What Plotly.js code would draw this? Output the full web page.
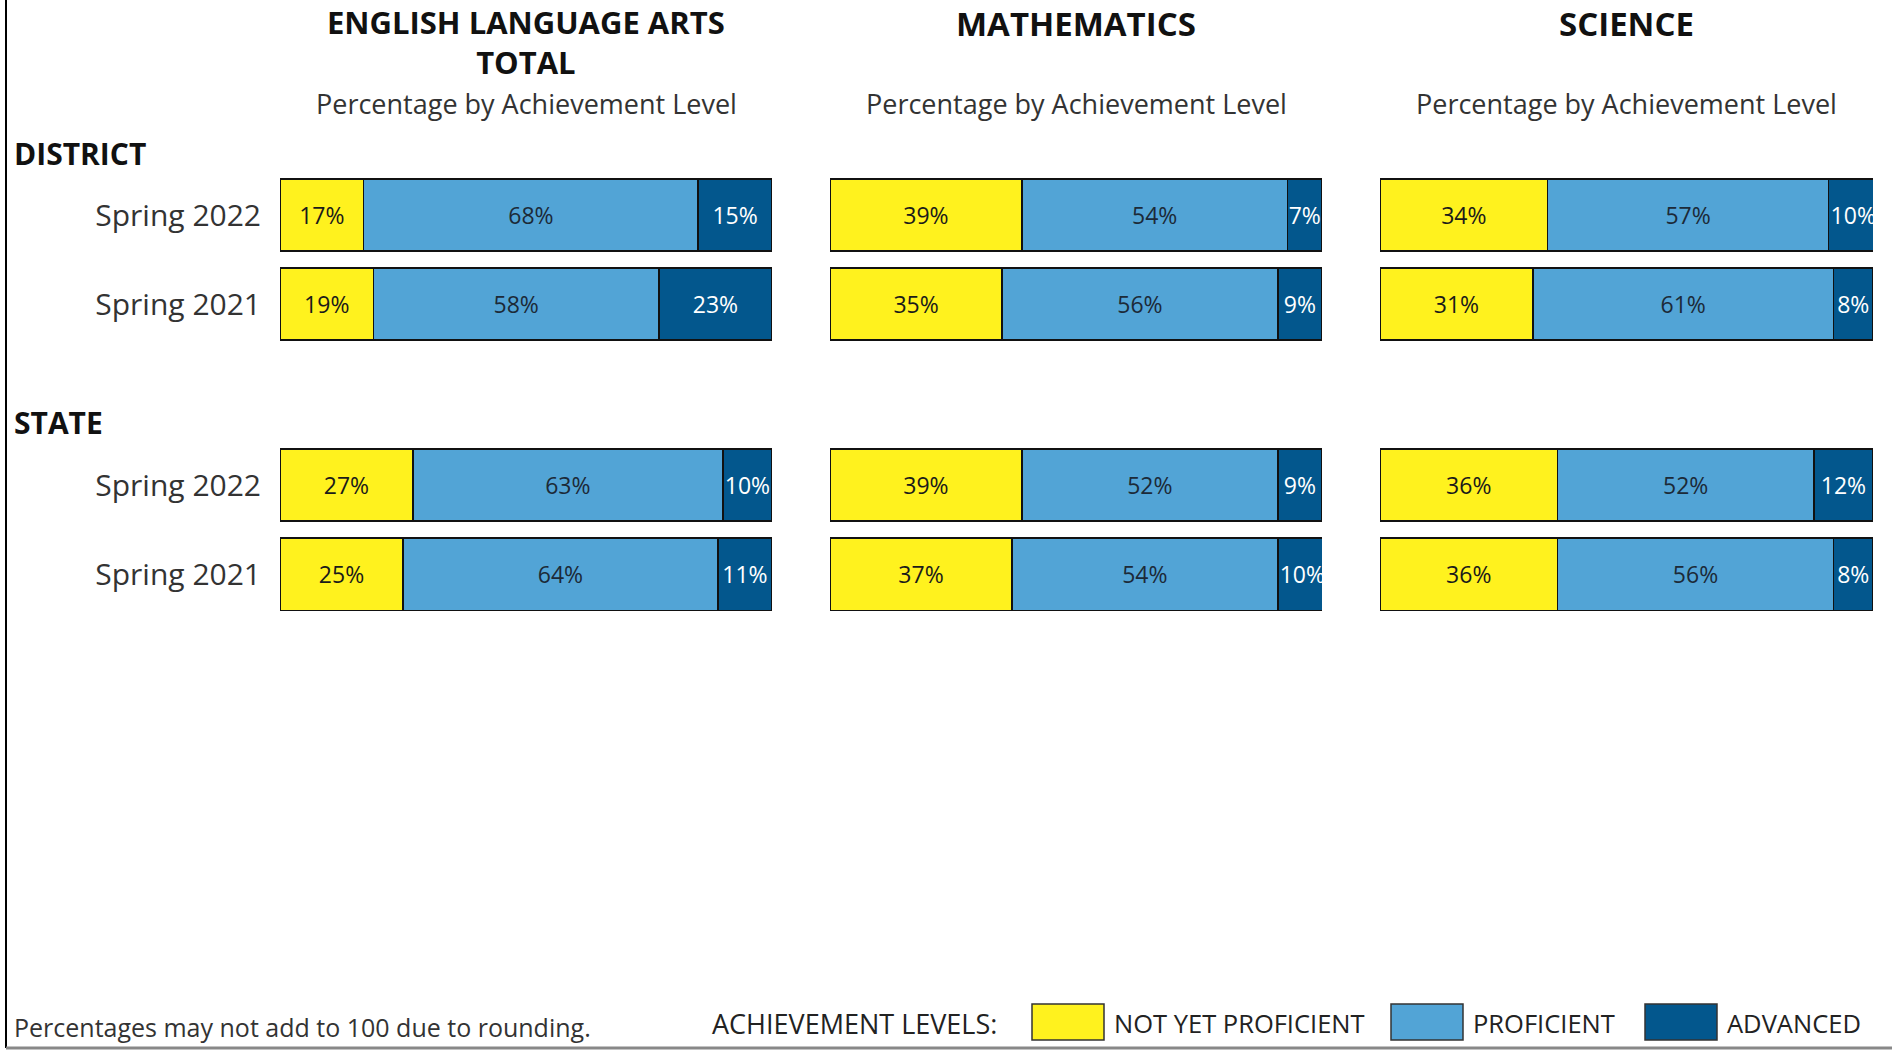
<!DOCTYPE html>
<html>
<head>
<meta charset="utf-8">
<script src="https://cdn.plot.ly/plotly-3.0.1.min.js"></script>
<style>
  html, body { margin: 0; padding: 0; background: #fff; }
  #chart { width: 1892px; height: 1052px; }
</style>
</head>
<body>
<div id="chart"></div>
<script>
// ---- data ----
const subjects = ['ENGLISH LANGUAGE ARTS<br>TOTAL', 'MATHEMATICS', 'SCIENCE'];
const subtitle = 'Percentage by Achievement Level';
const years = ['Spring 2022', 'Spring 2021'];
const groups = ['DISTRICT', 'STATE'];
const levels = ['NOT YET PROFICIENT', 'PROFICIENT', 'ADVANCED'];

// per subject (ELA, Math, Science): [Spring 2022, Spring 2021]
const districtNotYet     = [[17, 19], [39, 35], [34, 31]];
const districtProficient = [[68, 58], [54, 56], [57, 61]];
const districtAdvanced   = [[15, 23], [7, 9],   [10, 8]];
const stateNotYet        = [[27, 25], [39, 37], [36, 36]];
const stateProficient    = [[63, 64], [52, 54], [52, 56]];
const stateAdvanced      = [[10, 11], [9, 10],  [12, 8]];

const footnote = 'Percentages may not add to 100 due to rounding.';
const legendTitle = 'ACHIEVEMENT LEVELS:';

// ---- styles ----
const W = 1892, H = 1052;
const px = v => v / W;
const py = v => 1 - v / H;
const FONT = 'Open Sans, Noto Sans, sans-serif';
const levelColors = ['#FFF21E', '#52A4D6', '#03578D'];
const levelTextColors = ['#1a1a1a', '#1c2a38', '#ffffff'];
const xAxesIds = ['x', 'x2', 'x3'];
const yAxesIds = ['y', 'y2'];
const groupData = [
  [districtNotYet, districtProficient, districtAdvanced],
  [stateNotYet, stateProficient, stateAdvanced]
];

const traces = [];
groups.forEach((g, gi) => {
  subjects.forEach((s, si) => {
    levels.forEach((lev, li) => {
      const vals = groupData[gi][li][si];
      traces.push({
        type: 'bar',
        orientation: 'h',
        name: lev,
        y: years,
        x: vals,
        xaxis: xAxesIds[si],
        yaxis: yAxesIds[gi],
        marker: { color: levelColors[li], line: { color: '#111', width: 1.6 } },
        text: vals.map(v => v + '%'),
        textposition: 'inside',
        insidetextanchor: 'middle',
        textangle: 0,
        constraintext: 'none',
        textfont: { family: FONT, size: 23, color: levelTextColors[li] },
        showlegend: false,
        hoverinfo: 'skip'
      });
    });
  });
});

const xDomains = [[px(280), px(772)], [px(830), px(1322)], [px(1380), px(1873)]];
const yDomains = [[py(348.5), py(170.5)], [py(619), py(440.5)]];

const layout = {
  width: W, height: H,
  margin: { l: 0, r: 0, t: 0, b: 0 },
  paper_bgcolor: '#fff',
  plot_bgcolor: 'rgba(0,0,0,0)',
  barmode: 'stack',
  bargap: 0.19,
  showlegend: false,
  font: { family: FONT, color: '#222' },
  annotations: [],
  shapes: []
};

xAxesIds.forEach((id, i) => {
  const key = i === 0 ? 'xaxis' : 'xaxis' + (i + 1);
  layout[key] = {
    domain: xDomains[i], range: [0, 100], fixedrange: true,
    showgrid: false, zeroline: false, showticklabels: false, showline: false,
    anchor: 'y'
  };
});
yAxesIds.forEach((id, i) => {
  const key = i === 0 ? 'yaxis' : 'yaxis' + (i + 1);
  layout[key] = {
    domain: yDomains[i], type: 'category', categoryorder: 'array', categoryarray: years,
    autorange: 'reversed', anchor: 'x', fixedrange: true,
    showgrid: false, zeroline: false, showline: false, ticks: '',
    ticklabelstandoff: 18,
    tickfont: { family: FONT, size: 30, color: '#333' }
  };
});

// subject titles and subtitles
subjects.forEach((s, i) => {
  const twoLine = s.indexOf('<br>') >= 0;
  layout.annotations.push({
    xref: xAxesIds[i], yref: 'paper', x: 50, y: py(twoLine ? 42 : 24),
    text: '<b>' + s + '</b>', showarrow: false, xanchor: 'center', yanchor: 'middle',
    font: { family: FONT, size: twoLine ? 31 : 33, color: '#111' }
  });
  layout.annotations.push({
    xref: xAxesIds[i], yref: 'paper', x: 50, y: py(103),
    text: subtitle, showarrow: false, xanchor: 'center', yanchor: 'middle',
    font: { family: FONT, size: 27, color: '#333' }
  });
});

// group labels
const groupLabelY = [154, 422];
groups.forEach((g, i) => {
  layout.annotations.push({
    xref: 'paper', yref: 'paper', x: px(12), y: py(groupLabelY[i]),
    text: '<b>' + g + '</b>', showarrow: false, xanchor: 'left', yanchor: 'middle',
    font: { family: FONT, size: 30, color: '#111' }
  });
});

// footnote
layout.annotations.push({
  xref: 'paper', yref: 'paper', x: px(12), y: py(1027),
  text: footnote, showarrow: false, xanchor: 'left', yanchor: 'middle',
  font: { family: FONT, size: 25, color: '#333' }
});
// legend
layout.annotations.push({
  xref: 'paper', yref: 'paper', x: px(999), y: py(1023),
  text: legendTitle, showarrow: false, xanchor: 'right', yanchor: 'middle',
  font: { family: FONT, size: 27, color: '#222' }
});
const legendBoxX = [1032, 1391, 1645];
levels.forEach((lev, i) => {
  layout.shapes.push({
    type: 'rect', xref: 'paper', yref: 'paper',
    x0: px(legendBoxX[i]), x1: px(legendBoxX[i] + 72), y0: py(1040), y1: py(1004),
    fillcolor: levelColors[i], line: { color: '#333', width: 1.5 }
  });
  layout.annotations.push({
    xref: 'paper', yref: 'paper', x: px(legendBoxX[i] + 80), y: py(1023),
    text: lev, showarrow: false, xanchor: 'left', yanchor: 'middle',
    font: { family: FONT, size: 25.5, color: '#222' }
  });
});

// page frame lines
layout.shapes.push({
  type: 'line', xref: 'paper', yref: 'paper', x0: px(6), x1: px(6), y0: py(0), y1: py(1048),
  line: { color: '#000', width: 2 }
});
layout.shapes.push({
  type: 'line', xref: 'paper', yref: 'paper', x0: px(6), x1: 1, y0: py(1048), y1: py(1048),
  line: { color: '#888', width: 3 }
});

Plotly.newPlot('chart', traces, layout, { staticPlot: true, displayModeBar: false });
</script>
</body>
</html>
